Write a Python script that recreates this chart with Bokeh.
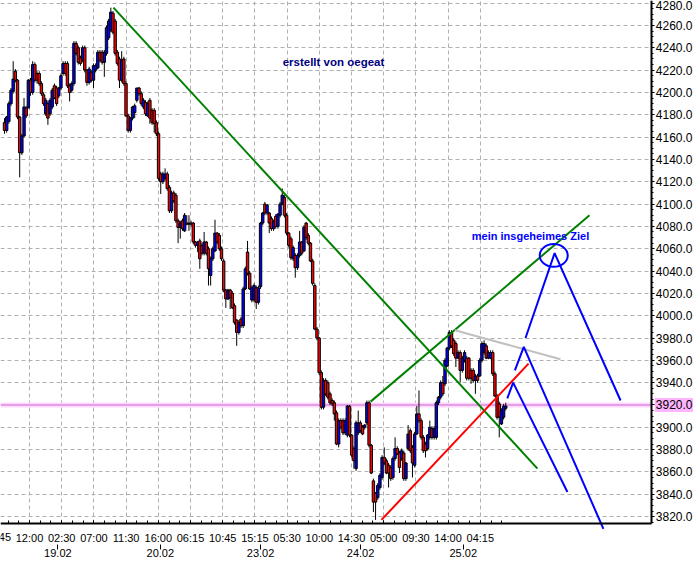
from bokeh.plotting import figure
from bokeh.models import (Range1d, FixedTicker, LinearAxis, PrintfTickFormatter,
                          ColumnDataSource)
from bokeh.core.properties import value
from bokeh.embed import file_html
from bokeh.resources import INLINE

# ---------------- data ----------------
OPEN = [4173, 4166, 4174, 4190, 4201, 4219, 4211, 4178, 4146, 4161, 4186, 4186, 4211, 4200, 4225, 4217, 4217, 4208, 4198, 4181,
        4190, 4181, 4187, 4206, 4204, 4197, 4204, 4217, 4226, 4226, 4206, 4202, 4208, 4244, 4240, 4231, 4229, 4240, 4220, 4209,
        4218, 4211, 4220, 4222, 4236, 4236, 4227, 4235, 4249, 4256, 4271, 4264, 4236, 4230, 4211, 4230, 4208, 4179, 4166, 4177,
        4182, 4193, 4204, 4199, 4187, 4191, 4179, 4193, 4184, 4184, 4173, 4163, 4127, 4120, 4123, 4127, 4115, 4094, 4110, 4108,
        4085, 4079, 4085, 4076, 4083, 4082, 4083, 4083, 4066, 4063, 4067, 4063, 4056, 4066, 4060, 4036, 4051, 4058, 4074, 4072,
        4060, 4049, 4023, 4015, 4023, 4020, 4009, 3996, 3985, 3997, 3991, 4024, 4057, 4038, 4014, 4014, 4025, 4012, 4026, 4083,
        4100, 4092, 4092, 4087, 4078, 4089, 4080, 4090, 4100, 4106, 4090, 4074, 4069, 4051, 4054, 4043, 4054, 4066, 4058, 4083,
        4072, 4065, 4049, 4027, 3988, 3980, 3949, 3918, 3942, 3940, 3930, 3924, 3922, 3913, 3885, 3906, 3906, 3895, 3893, 3919,
        3893, 3881, 3863, 3895, 3904, 3900, 3900, 3904, 3922, 3884, 3852, 3841, 3837, 3846, 3855, 3873, 3870, 3866, 3864, 3855,
        3872, 3881, 3877, 3872, 3877, 3854, 3881, 3897, 3882, 3866, 3894, 3912, 3906, 3891, 3885, 3881, 3891, 3899, 3891, 3891,
        3922, 3927, 3940, 3939, 3955, 3971, 3985, 3978, 3975, 3962, 3967, 3951, 3960, 3962, 3962, 3951, 3951, 3942, 3946, 3946,
        3960, 3967, 3973, 3962, 3962, 3967, 3948, 3928, 3921, 3903, 3909, 3917]
HIGH = [4177, 4179, 4192, 4204, 4228, 4221, 4212, 4179, 4163, 4195, 4188, 4212, 4213, 4228, 4227, 4219, 4219, 4210, 4200, 4195,
        4192, 4195, 4204, 4208, 4206, 4205, 4217, 4228, 4228, 4228, 4208, 4210, 4246, 4246, 4242, 4233, 4242, 4242, 4221, 4223,
        4220, 4226, 4226, 4238, 4238, 4238, 4238, 4260, 4266, 4276, 4273, 4266, 4238, 4232, 4237, 4232, 4210, 4181, 4178, 4188,
        4190, 4204, 4205, 4201, 4195, 4193, 4192, 4195, 4186, 4186, 4175, 4165, 4129, 4129, 4132, 4129, 4117, 4112, 4112, 4110,
        4087, 4085, 4087, 4092, 4090, 4090, 4085, 4084, 4067, 4067, 4069, 4065, 4075, 4067, 4062, 4053, 4062, 4086, 4075, 4074,
        4062, 4051, 4024, 4024, 4024, 4022, 4011, 3997, 3996, 3999, 4026, 4044, 4067, 4040, 4027, 4029, 4027, 4027, 4084, 4093,
        4102, 4100, 4093, 4089, 4086, 4091, 4092, 4102, 4114, 4108, 4092, 4075, 4071, 4063, 4056, 4056, 4076, 4067, 4081, 4084,
        4074, 4066, 4051, 4029, 3990, 3981, 3951, 3944, 3944, 3942, 3932, 3926, 3924, 3915, 3908, 3908, 3908, 3908, 3920, 3920,
        3894, 3883, 3906, 3915, 3906, 3902, 3903, 3924, 3924, 3885, 3854, 3842, 3850, 3859, 3875, 3882, 3872, 3868, 3866, 3874,
        3891, 3883, 3879, 3881, 3879, 3869, 3902, 3899, 3884, 3896, 3919, 3933, 3908, 3893, 3887, 3894, 3906, 3901, 3901, 3924,
        3928, 3942, 3946, 3962, 3972, 3987, 3987, 3980, 3977, 3969, 3969, 3964, 3969, 3964, 3963, 3953, 3953, 3948, 3948, 3962,
        3977, 3978, 3975, 3969, 3969, 3969, 3950, 3930, 3923, 3917, 3921, 3922]
LOW = [4163, 4164, 4172, 4188, 4199, 4209, 4176, 4124, 4144, 4160, 4177, 4193, 4197, 4198, 4209, 4208, 4206, 4197, 4188, 4179,
       4171, 4179, 4185, 4194, 4188, 4195, 4202, 4215, 4215, 4204, 4192, 4200, 4206, 4233, 4225, 4224, 4227, 4218, 4206, 4207,
       4209, 4204, 4218, 4221, 4227, 4225, 4214, 4233, 4247, 4254, 4252, 4233, 4224, 4204, 4209, 4206, 4178, 4164, 4164, 4175,
       4177, 4191, 4197, 4188, 4185, 4179, 4178, 4172, 4171, 4164, 4161, 4121, 4109, 4118, 4121, 4112, 4092, 4092, 4101, 4083,
       4065, 4069, 4076, 4075, 4081, 4076, 4080, 4064, 4061, 4057, 4042, 4054, 4054, 4054, 4027, 4027, 4049, 4057, 4064, 4058,
       4049, 4021, 4007, 4014, 4006, 4006, 3992, 3973, 3983, 3989, 3989, 4023, 4036, 4023, 4012, 4012, 4006, 4010, 4024, 4081,
       4090, 4090, 4074, 4076, 4076, 4078, 4078, 4088, 4099, 4088, 4072, 4061, 4050, 4049, 4034, 4041, 4052, 4054, 4057, 4068,
       4063, 4048, 4027, 3987, 3978, 3947, 3916, 3916, 3928, 3925, 3920, 3919, 3906, 3884, 3882, 3898, 3893, 3893, 3891, 3891,
       3873, 3863, 3861, 3893, 3895, 3893, 3898, 3902, 3882, 3858, 3824, 3817, 3835, 3844, 3853, 3866, 3858, 3846, 3852, 3853,
       3870, 3875, 3859, 3870, 3852, 3852, 3879, 3877, 3855, 3864, 3893, 3904, 3889, 3877, 3873, 3879, 3889, 3889, 3889, 3889,
       3920, 3925, 3928, 3937, 3954, 3969, 3971, 3964, 3954, 3961, 3940, 3949, 3958, 3942, 3942, 3939, 3940, 3930, 3940, 3945,
       3958, 3965, 3961, 3961, 3961, 3946, 3927, 3907, 3891, 3902, 3907, 3915]
CLOSE = [4166, 4178, 4190, 4202, 4212, 4211, 4178, 4146, 4161, 4187, 4179, 4211, 4200, 4225, 4211, 4211, 4208, 4199, 4190, 4193,
         4177, 4193, 4202, 4195, 4190, 4204, 4215, 4226, 4217, 4206, 4200, 4208, 4244, 4235, 4227, 4226, 4240, 4220, 4209, 4221,
         4211, 4224, 4224, 4236, 4229, 4227, 4236, 4258, 4264, 4272, 4254, 4235, 4226, 4211, 4229, 4208, 4179, 4166, 4177, 4187,
         4188, 4204, 4199, 4190, 4193, 4181, 4190, 4177, 4173, 4172, 4163, 4123, 4120, 4127, 4127, 4114, 4094, 4110, 4103, 4085,
         4079, 4083, 4078, 4090, 4082, 4083, 4082, 4066, 4063, 4066, 4051, 4056, 4066, 4056, 4042, 4051, 4060, 4074, 4066, 4060,
         4051, 4023, 4015, 4023, 4016, 4007, 3994, 3985, 3994, 3991, 4024, 4042, 4038, 4024, 4025, 4027, 4012, 4025, 4083, 4092,
         4092, 4099, 4083, 4078, 4084, 4080, 4091, 4100, 4108, 4090, 4074, 4063, 4052, 4061, 4043, 4054, 4066, 4056, 4079, 4070,
         4065, 4049, 4029, 3988, 3980, 3949, 3918, 3942, 3930, 3927, 3922, 3921, 3912, 3885, 3906, 3900, 3895, 3906, 3919, 3893,
         3875, 3870, 3904, 3904, 3897, 3894, 3902, 3922, 3884, 3859, 3833, 3833, 3848, 3857, 3873, 3868, 3859, 3859, 3854, 3872,
         3881, 3876, 3864, 3879, 3854, 3868, 3894, 3879, 3868, 3894, 3912, 3906, 3891, 3879, 3879, 3893, 3900, 3891, 3899, 3922,
         3927, 3940, 3930, 3960, 3971, 3985, 3973, 3966, 3962, 3967, 3951, 3962, 3967, 3944, 3944, 3944, 3942, 3946, 3942, 3960,
         3975, 3975, 3962, 3967, 3967, 3948, 3928, 3909, 3909, 3915, 3919, 3919]

# axis labels
Y_TICKS = list(range(3820, 4281, 20))
TIME_LABELS = ["07:45", "12:00", "02:30", "07:00", "11:30", "16:00", "06:15", "10:45", "15:15",
               "05:30", "10:00", "14:30", "05:00", "09:30", "14:00", "04:15"]
TIME_TICK0 = -3.32      # bar position of the first (clipped) time label
TIME_STEP = 14.839      # bars between time labels
DATE_LABELS = ["19.02", "20.02", "23.02", "24.02", "25.02"]
DATE_TICKS = [24.6, 71.8, 118.0, 164.1, 211.4]

# drawn trend lines / projections
DOWN_X, DOWN_Y = [50.2, 245.6], [4276, 3863]
CHAN_X, CHAN_Y = [168.7, 269.6], [3923, 4090]
SUPP_X, SUPP_Y = [173.7, 241.5], [3817, 3957]
GREY_X, GREY_Y = [207.5, 256.2], [3987, 3961]
PROJ_A_X, PROJ_A_Y = [231.7, 234.4, 259.4], [3926, 3940, 3842]
PROJ_B_X, PROJ_B_Y = [235.2, 239.3, 276.0], [3951, 3972, 3809]
PROJ_C_X, PROJ_C_Y = [240.1, 253.5, 283.9], [3980, 4056, 3924]
TARGET_X, TARGET_Y, TARGET_W, TARGET_H = 253.1, 4054, 12.9, 20.3
MARK_LEVEL = 3920

# ---------------- layout of the chart area (data units) ----------------
X0, X_AXIS = -1.843, 298.3          # left edge, position of the price axis
Y_BOTTOM, Y_TOP = 3813.8, 4282.4    # price axis extent
DATE_ROW = 3795.0                   # where the date axis sits
TIME_ROW = 3801.3                   # vertical centre of the time labels

p = figure(width=693, height=567, output_backend="svg", toolbar_location=None,
           x_range=Range1d(X0, 317.51), y_range=Range1d(3774.38, Y_TOP),
           y_axis_location="right", min_border=0)
p.min_border_left = p.min_border_right = p.min_border_top = p.min_border_bottom = 0
p.outline_line_color = None
p.background_fill_color = "white"
p.border_fill_color = "white"

FONT = "Liberation Sans"

# right price axis
ya = p.yaxis[0]
ya.fixed_location = X_AXIS
ya.bounds = (Y_BOTTOM, Y_TOP)
ya.ticker = FixedTicker(ticks=Y_TICKS, minor_ticks=list(range(3815, 4285, 5)))
ya.formatter = PrintfTickFormatter(format="%.1f")
ya.axis_line_width = 2
ya.axis_line_color = "black"
ya.major_tick_in = 0
ya.major_tick_out = 3
ya.minor_tick_in = 0
ya.minor_tick_out = 2
ya.major_label_standoff = 1
ya.major_label_text_font = FONT
ya.major_label_text_font_size = "12px"
ya.major_label_text_color = "black"

# bottom time axis
n = len(CLOSE)
time_ticks = [TIME_TICK0 + k * TIME_STEP for k in range(len(TIME_LABELS))]
minor_x = [TIME_TICK0 + m * TIME_STEP / 3 for m in range(0, 3 * len(TIME_LABELS) + 3)]
minor_x = [t for t in minor_x if X0 <= t <= n - 0.5]
xa = p.xaxis[0]
xa.fixed_location = Y_BOTTOM
xa.bounds = (X0, X_AXIS)
xa.ticker = FixedTicker(ticks=time_ticks[1:], minor_ticks=minor_x)
xa.major_label_overrides = {t: lab for t, lab in zip(time_ticks, TIME_LABELS)}
xa.axis_line_width = 2
xa.axis_line_color = "black"
xa.major_tick_in = 3
xa.major_tick_out = 0
xa.minor_tick_in = 3
xa.minor_tick_out = 0
xa.major_label_standoff = 8
xa.major_label_text_font = FONT
xa.major_label_text_font_size = "11px"
xa.major_label_text_color = "black"

# first time label lies partly left of the chart: draw it as text so it is cut
p.text(x=[time_ticks[0]], y=[TIME_ROW], text=[TIME_LABELS[0]], text_font=value(FONT),
       text_font_size="11px", text_color="black", text_align="center",
       text_baseline="middle")

# bottom date axis
da = LinearAxis(ticker=FixedTicker(ticks=DATE_TICKS), fixed_location=DATE_ROW,
                major_label_overrides={t: lab for t, lab in zip(DATE_TICKS, DATE_LABELS)})
da.axis_line_color = None
da.major_tick_in = 0
da.major_tick_out = 5
da.minor_tick_line_color = None
da.major_label_standoff = 0
da.major_label_text_font = FONT
da.major_label_text_font_size = "11px"
da.major_label_text_color = "black"
p.add_layout(da, "below")

# grids (only inside the chart area)
p.xgrid.ticker = FixedTicker(ticks=time_ticks)
p.ygrid.ticker = FixedTicker(ticks=Y_TICKS)
p.xgrid.cross_bounds = (Y_BOTTOM, Y_TOP)
p.ygrid.cross_bounds = (X0, X_AXIS)
for g in (p.xgrid, p.ygrid):
    g.grid_line_color = "#b0b0b0"
    g.grid_line_dash = "4 3"
    g.grid_line_width = 1

# marked level (pink line + highlighted axis value)
p.segment(x0=[X0], y0=[MARK_LEVEL], x1=[X_AXIS], y1=[MARK_LEVEL],
          line_color="#ffd8ff", line_width=5)
p.segment(x0=[X0], y0=[MARK_LEVEL], x1=[X_AXIS], y1=[MARK_LEVEL],
          line_color="#cc66cc", line_width=1)
p.rect(x=[308.6], y=[MARK_LEVEL], width=[17.9], height=[12.5],
       fill_color="#ffb4ff", line_color=None)

# candles
src = ColumnDataSource(dict(
    i=list(range(n)), o=OPEN, h=HIGH, l=LOW, c=CLOSE,
    top=[max(a, b) for a, b in zip(OPEN, CLOSE)],
    bottom=[min(a, b) for a, b in zip(OPEN, CLOSE)],
    color=["#0000ff" if c > o else "#ff0000" for o, c in zip(OPEN, CLOSE)],
))
p.segment("i", "h", "i", "l", source=src, line_color="black", line_width=1)
p.vbar(x="i", width=1.1, top="top", bottom="bottom", fill_color="color",
       line_color="black", line_width=1, source=src)

# trend lines
p.line(DOWN_X, DOWN_Y, line_color="#008000", line_width=2)
p.line(CHAN_X, CHAN_Y, line_color="#008000", line_width=2)
p.line(SUPP_X, SUPP_Y, line_color="#ff0000", line_width=2)
p.line(GREY_X, GREY_Y, line_color="#c0c0c0", line_width=2)
for xs, ys in ((PROJ_A_X, PROJ_A_Y), (PROJ_B_X, PROJ_B_Y), (PROJ_C_X, PROJ_C_Y)):
    p.line(xs, ys, line_color="#0000ff", line_width=2)
p.ellipse(x=[TARGET_X], y=[TARGET_Y], width=[TARGET_W], height=[TARGET_H],
          fill_color=None, line_color="#0000ff", line_width=2)

# texts
p.text(x=[151.6], y=[4227], text=["erstellt von oegeat"], text_font=value(FONT),
       text_font_style="bold", text_font_size="11.5px", text_color="#000080",
       text_align="center", text_baseline="middle")
p.text(x=[242.4], y=[4071], text=["mein insgeheimes Ziel"], text_font=value(FONT),
       text_font_style="bold", text_font_size="11px", text_color="#0000ff",
       text_align="center", text_baseline="middle")

open("out.html", "w").write(file_html(p, INLINE))
